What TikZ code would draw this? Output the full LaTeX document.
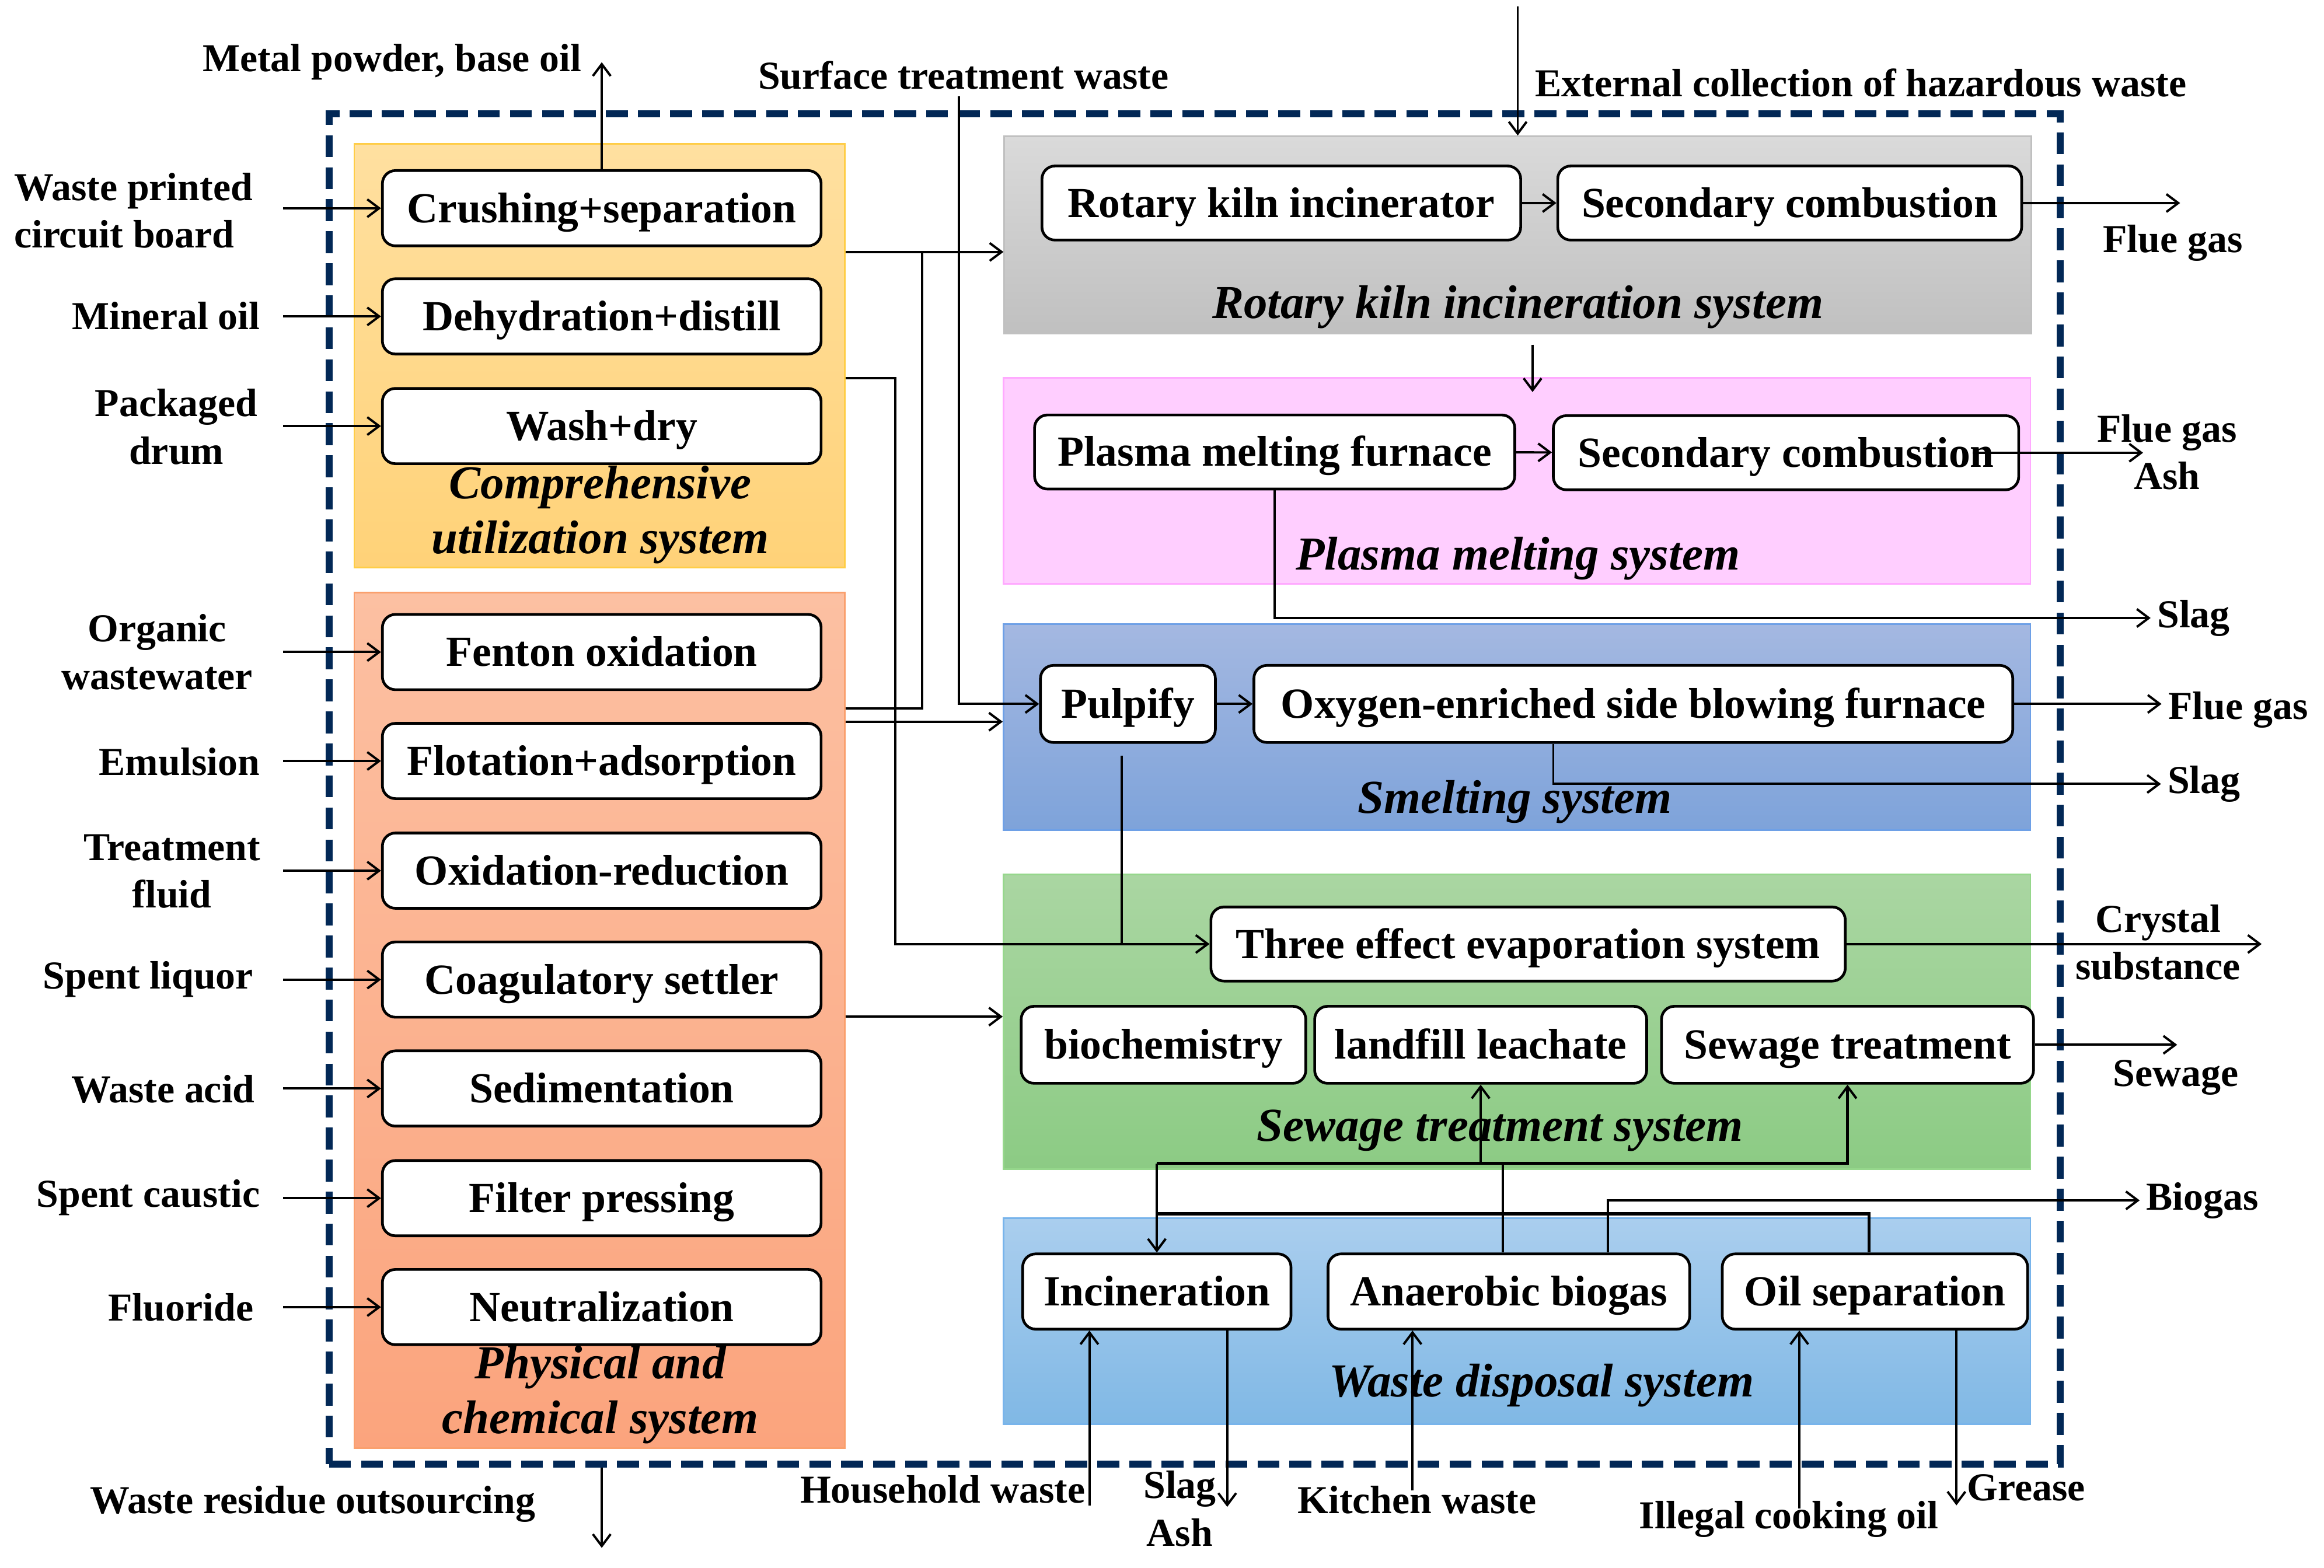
\documentclass[tikz,border=0pt]{standalone}
\usepackage{fontspec}
\setmainfont{Liberation Serif}
\usepackage{tikz}
\usetikzlibrary{arrows.meta}
\definecolor{frameblue}{RGB}{2,40,86}
\definecolor{compTop}{RGB}{255,224,160}
\definecolor{compBot}{RGB}{255,210,120}
\definecolor{compLine}{RGB}{255,205,70}
\definecolor{physTop}{RGB}{252,192,162}
\definecolor{physBot}{RGB}{251,164,125}
\definecolor{physLine}{RGB}{250,160,110}
\definecolor{rkTop}{RGB}{218,218,218}
\definecolor{rkBot}{RGB}{192,192,192}
\definecolor{plFill}{RGB}{255,206,255}
\definecolor{plLine}{RGB}{255,170,255}
\definecolor{smTop}{RGB}{164,184,225}
\definecolor{smBot}{RGB}{126,163,218}
\definecolor{smLine}{RGB}{110,160,230}
\definecolor{swTop}{RGB}{170,214,162}
\definecolor{swBot}{RGB}{140,203,132}
\definecolor{swLine}{RGB}{150,215,140}
\definecolor{wdTop}{RGB}{170,206,238}
\definecolor{wdBot}{RGB}{128,184,229}
\definecolor{wdLine}{RGB}{120,180,235}

\begin{document}
\begin{tikzpicture}[scale=0.25,
    proc/.style={draw=black, line width=1.3pt, rounded corners=0.22cm, fill=white, minimum height=1.27cm, text height=0.55cm, text depth=0.07cm, font=\bfseries\fontsize{20.6}{24}\selectfont},
    sysbox/.style={line width=0.8pt, minimum width=17.32cm},
    syslabel/.style={font=\bfseries\itshape\fontsize{22.7}{26.3}\selectfont, align=center},
    outlabel/.style={inner sep=3pt, font=\bfseries\fontsize{19}{22.8}\selectfont, align=center},
    link/.style={line width=1.1pt},
    arr/.style={link, -{Straight Barb[length=0.2cm, width=0.3cm, line width=1.1pt]}}]
    \tikzstyle{every node}+=[inner sep=0pt]
    \useasboundingbox (0,0) rectangle (156.8,-105.77);
    \node [draw=frameblue, line width=3.4pt, dash pattern=on 0.37cm off 0.17cm, minimum width=29.2cm, minimum height=22.78cm] (frame) at (80.6,-53.25) {};
    \node [sysbox, top color=compTop, bottom color=compBot, draw=compLine, minimum width=8.275cm, minimum height=7.15cm] (compsys) at (40.45,-24.0) {};
    \node [sysbox, top color=physTop, bottom color=physBot, draw=physLine, minimum width=8.275cm, minimum height=14.425cm] (physsys) at (40.45,-68.85) {};
    \node [sysbox, top color=rkTop, bottom color=rkBot, draw=rkBot, minimum height=3.325cm] (rksys) at (102.4,-15.85) {};
    \node [sysbox, fill=plFill, draw=plLine, minimum height=3.475cm] (plsys) at (102.35,-32.45) {};
    \node [sysbox, top color=smTop, bottom color=smBot, draw=smLine, minimum height=3.475cm] (smsys) at (102.35,-49.05) {};
    \node [sysbox, top color=swTop, bottom color=swBot, draw=swLine, minimum height=4.975cm] (swsys) at (102.35,-68.95) {};
    \node [sysbox, top color=wdTop, bottom color=wdBot, draw=wdLine, minimum height=3.475cm] (wdsys) at (102.35,-89.15) {};
    \node [syslabel] (complab) at (40.5,-34.75) {Comprehensive\\utilization system};
    \node [syslabel] (physlab) at (40.5,-94.1) {Physical and\\chemical system};
    \node [syslabel] (rklab) at (102.4,-20.7) {Rotary kiln incineration system};
    \node [syslabel] (pllab) at (102.4,-37.7) {Plasma melting system};
    \node [syslabel] (smlab) at (102.2,-54.1) {Smelting system};
    \node [syslabel] (swlab) at (101.2,-76.3) {Sewage treatment system};
    \node [syslabel] (wdlab) at (104.0,-93.5) {Waste disposal system};
    \node [proc, minimum width=7.4cm] (crush) at (40.6,-14.05) {Crushing+separation};
    \node [proc, minimum width=7.4cm] (dehyd) at (40.6,-21.35) {Dehydration+distill};
    \node [proc, minimum width=7.4cm] (wash) at (40.6,-28.75) {Wash+dry};
    \node [proc, minimum width=7.4cm] (fenton) at (40.6,-44.0) {Fenton oxidation};
    \node [proc, minimum width=7.4cm] (flot) at (40.6,-51.35) {Flotation+adsorption};
    \node [proc, minimum width=7.4cm] (oxred) at (40.6,-58.75) {Oxidation-reduction};
    \node [proc, minimum width=7.4cm] (coag) at (40.6,-66.1) {Coagulatory settler};
    \node [proc, minimum width=7.4cm] (sedi) at (40.6,-73.45) {Sedimentation};
    \node [proc, minimum width=7.4cm] (filt) at (40.6,-80.85) {Filter pressing};
    \node [proc, minimum width=7.4cm] (neut) at (40.6,-88.2) {Neutralization};
    \node [proc, minimum width=8.075cm, minimum height=1.25cm] (rkiln) at (86.45,-13.7) {Rotary kiln incinerator};
    \node [proc, minimum width=7.825cm, minimum height=1.25cm] (sec1) at (120.75,-13.7) {Secondary combustion};
    \node [proc, minimum width=8.1cm, minimum height=1.25cm] (plasma) at (86.0,-30.5) {Plasma melting furnace};
    \node [proc, minimum width=7.85cm, minimum height=1.25cm] (sec2) at (120.5,-30.55) {Secondary combustion};
    \node [proc, minimum width=2.95cm, minimum height=1.3cm] (pulp) at (76.1,-47.5) {Pulpify};
    \node [proc, minimum width=12.8cm, minimum height=1.3cm] (oxy) at (110.2,-47.5) {Oxygen-enriched side blowing furnace};
    \node [proc, minimum width=10.7cm, minimum height=1.25cm] (evap) at (103.1,-63.7) {Three effect evaporation system};
    \node [proc, minimum width=4.8cm, minimum height=1.3cm] (bio) at (78.5,-70.5) {biochemistry};
    \node [proc, minimum width=5.6cm, minimum height=1.3cm] (landf) at (99.9,-70.5) {landfill leachate};
    \node [proc, minimum width=6.275cm, minimum height=1.3cm] (sewtr) at (124.65,-70.5) {Sewage treatment};
    \node [proc, minimum width=4.525cm] (incin) at (78.05,-87.15) {Incineration};
    \node [proc, minimum width=6.1cm] (anaer) at (101.8,-87.15) {Anaerobic biogas};
    \node [proc, minimum width=5.15cm] (oilsep) at (126.5,-87.15) {Oil separation};
    \node [outlabel] (metal) at (26.45,-4.2) {Metal powder, base oil};
    \node [outlabel] (surf) at (65.0,-5.1) {Surface treatment waste};
    \node [outlabel] (extc) at (125.55,-5.6) {External collection of hazardous waste};
    \node [outlabel] (flue1) at (146.6,-16.4) {Flue gas};
    \node [outlabel] (flue2) at (146.2,-30.5) {Flue gas\\Ash};
    \node [outlabel] (slag1) at (148.0,-41.7) {Slag};
    \node [outlabel] (flue3) at (151.0,-47.9) {Flue gas};
    \node [outlabel] (slag2) at (148.7,-52.9) {Slag};
    \node [outlabel] (cryst) at (145.6,-63.6) {Crystal\\substance};
    \node [outlabel] (sewage) at (146.8,-72.7) {Sewage};
    \node [outlabel] (biogas) at (148.6,-81.0) {Biogas};
    \node [outlabel] (grease) at (136.7,-100.4) {Grease};
    \node [outlabel] (illegal) at (120.7,-102.5) {Illegal cooking oil};
    \node [outlabel] (kitchen) at (95.6,-101.2) {Kitchen waste};
    \node [outlabel] (slagash) at (79.6,-101.8) {Slag\\Ash};
    \node [outlabel] (house) at (63.6,-100.5) {Household waste};
    \node [outlabel] (residue) at (21.1,-101.5) {Waste residue outsourcing};
    \node [outlabel, align=left] (wpcb) at (9.0,-14.2) {Waste printed\\circuit board};
    \node [outlabel] (mineral) at (11.2,-21.3) {Mineral oil};
    \node [outlabel] (drum) at (11.9,-28.8) {Packaged\\drum};
    \node [outlabel] (organic) at (10.6,-44.0) {Organic\\wastewater};
    \node [outlabel] (emul) at (12.1,-51.4) {Emulsion};
    \node [outlabel] (treat) at (11.6,-58.8) {Treatment\\fluid};
    \node [outlabel] (liquor) at (10.0,-66.1) {Spent liquor};
    \node [outlabel] (acid) at (11.0,-73.5) {Waste acid};
    \node [outlabel] (caustic) at (10.0,-80.8) {Spent caustic};
    \node [outlabel] (fluor) at (12.2,-88.2) {Fluoride};
    \coordinate (kA) at (62.2,-17.0);
    \coordinate (kB) at (62.2,-47.8);
    \coordinate (kC) at (60.4,-25.5);
    \coordinate (kG) at (60.0,-48.7);
    \coordinate (kH) at (60.0,-68.6);
    \coordinate (wA) at (78.05,-78.5);
    \coordinate (wC) at (78.05,-81.9);
    \draw [arr] (crush.west) ++(-6.6,0) -- (crush.west);
    \draw [arr] (dehyd.west) ++(-6.6,0) -- (dehyd.west);
    \draw [arr] (wash.west) ++(-6.6,0) -- (wash.west);
    \draw [arr] (fenton.west) ++(-6.6,0) -- (fenton.west);
    \draw [arr] (flot.west) ++(-6.6,0) -- (flot.west);
    \draw [arr] (oxred.west) ++(-6.6,0) -- (oxred.west);
    \draw [arr] (coag.west) ++(-6.6,0) -- (coag.west);
    \draw [arr] (sedi.west) ++(-6.6,0) -- (sedi.west);
    \draw [arr] (filt.west) ++(-6.6,0) -- (filt.west);
    \draw [arr] (neut.west) ++(-6.6,0) -- (neut.west);
    \draw [arr] (crush.north) -- (crush.north |- metal.east);
    \draw [arr] (compsys.east |- kA) -- (rksys.west |- kA);
    \draw [link] (physsys.east |- kB) -- (kB) -- (kA);
    \draw [arr] (physsys.east |- kG) -- (smsys.west |- kG);
    \draw [arr] (compsys.east |- kC) -- (kC) |- (evap.west);
    \draw [link] (pulp.south) ++(-0.4,-0.8) coordinate (pd) -- (pd |- evap.west);
    \draw [arr] (physsys.east |- kH) -- (swsys.west |- kH);
    \draw [arr] (surf.south) ++(-0.3,0) |- (pulp.west);
    \draw [arr] (rksys.north) ++(0,8.7) -- (rksys.north);
    \draw [arr] (rkiln) -- (sec1);
    \draw [arr] (sec1.east) -- ++(10.6,0);
    \draw [arr] (rksys.south) ++(1.0,-0.7) -- ++(0,-3.2);
    \draw [arr] (plasma) -- (sec2);
    \draw [arr] (sec2.east) ++(-3.2,0) -- ++(11.5,0);
    \draw [arr] (plasma.south) |- (slag1.west);
    \draw [arr] (pulp) -- (oxy);
    \draw [arr] (oxy.east) -- (oxy.east -| flue3.west);
    \draw [arr] (oxy.south) ++(-5.4,0) |- (slag2.west);
    \draw [arr] (evap.east) -- ++(28.0,0);
    \draw [arr] (sewtr.east) -- ++(9.6,0);
    \draw [arr, line width=1.5pt] (wA) -| (sewtr.south);
    \draw [arr] (landf.south |- wA) -- (landf.south);
    \draw [arr] (wA) -- (incin.north);
    \draw [link] (anaer.north) ++(-0.4,0) coordinate (ad) -- (ad |- wA);
    \draw [link, line width=1.5pt] (oilsep.north) ++(-0.4,0) |- (wC);
    \draw [arr] (anaer.north) ++(6.7,0) |- (biogas.west);
    \draw [arr] (incin.south) ++(-4.55,-11.8) -- ++(0,11.8);
    \draw [arr] (incin.south) ++(4.75,0) -- ++(0,-11.9);
    \draw [arr] (anaer.south) ++(-6.5,-10.8) -- ++(0,10.8);
    \draw [arr] (oilsep.south) ++(-5.1,-12.0) -- ++(0,12.0);
    \draw [arr] (oilsep.south) ++(5.5,0) -- ++(0,-11.8);
    \draw [arr] (frame.south -| crush.south) -- ++(0,-5.4);
\end{tikzpicture}
\end{document}
